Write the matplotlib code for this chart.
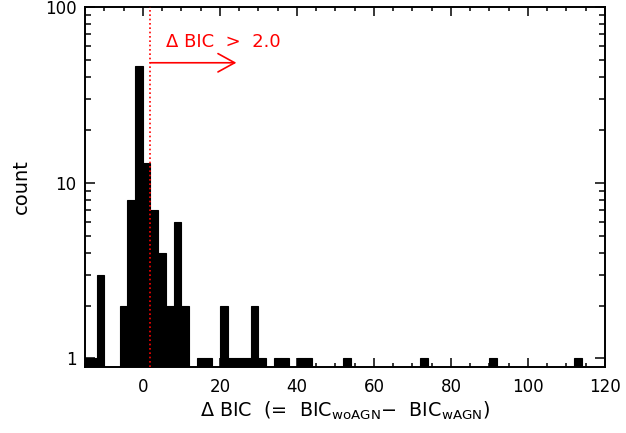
import matplotlib
matplotlib.use("Agg")
import matplotlib.pyplot as plt
from matplotlib.ticker import FixedLocator, MultipleLocator, NullFormatter, FixedFormatter
import numpy as np

# Histogram of Delta BIC, bin width 2
bin_left = [-16, -14, -12, -10, -8, -6, -4, -2, 0, 2, 4, 6, 8, 10, 12, 14, 16, 18,
            20, 22, 24, 26, 28, 30, 32, 34, 36, 38, 40, 42, 52, 72, 90, 112]
counts = [1, 1, 3, 0, 0, 2, 8, 46, 13, 7, 4, 2, 6, 2, 0, 1, 1, 0,
          2, 1, 1, 1, 2, 1, 0, 1, 1, 0, 1, 1, 1, 1, 1, 1]
bin_width = 2
threshold = 2.0
arrow_end = 24.3
arrow_y = 48
label_x = 6.1
label_y = 59

plt.rcParams['font.family'] = ['DejaVu Sans']
plt.rcParams['mathtext.fontset'] = 'dejavusans'
plt.rcParams['mathtext.default'] = 'regular'

fig = plt.figure(figsize=(6.26, 4.33), dpi=100)
ax = fig.add_axes([85/626, 1-366.5/433, (605-85)/626, (366.5-6.7)/433])

ax.bar(bin_left, counts, width=bin_width, align='edge', color='black',
       edgecolor='black', linewidth=0.8, zorder=1)
ax.set_yscale('log')
ax.set_xlim(-15, 120)
ax.set_ylim(0.9, 100)

ax.xaxis.set_major_locator(MultipleLocator(20))
ax.xaxis.set_minor_locator(MultipleLocator(5))
ax.yaxis.set_major_locator(FixedLocator([1, 10, 100]))
ax.yaxis.set_major_formatter(FixedFormatter(['1', '10', '100']))
ax.yaxis.set_minor_locator(FixedLocator([k*10**d for d in range(0, 2) for k in range(2, 10)]))
ax.yaxis.set_minor_formatter(NullFormatter())

fs_tick = 12
fs_lab = 13
ax.tick_params(axis='both', which='both', direction='in', top=True, right=True,
               labelsize=fs_tick, width=1.1, color='black')
ax.tick_params(axis='x', which='major', length=6.5, pad=8)
ax.tick_params(axis='x', which='minor', length=3)
ax.tick_params(axis='y', which='major', length=7.5, pad=6)
ax.tick_params(axis='y', which='minor', length=4.3)
for s in ax.spines.values():
    s.set_linewidth(1.4)

ax.axvline(threshold, color='red', linestyle=(0, (1, 1.6)), linewidth=1.2, zorder=3)
ax.annotate('', xy=(arrow_end, arrow_y), xytext=(threshold, arrow_y),
            arrowprops=dict(arrowstyle='->,head_length=0.6,head_width=0.33',
                            color='red', lw=1.2, mutation_scale=20,
                            shrinkA=0, shrinkB=0))
ax.text(label_x, label_y, 'Δ BIC  >  2.0', color='red', fontsize=fs_lab, va='baseline', ha='left')

ax.set_xlabel(r'Δ BIC  (=  BIC$_{woAGN}$$-$  BIC$_{wAGN}$)', fontsize=13.8, labelpad=3)
ax.set_ylabel('count', fontsize=14, labelpad=10)

fig.savefig('out.png', dpi=100)
